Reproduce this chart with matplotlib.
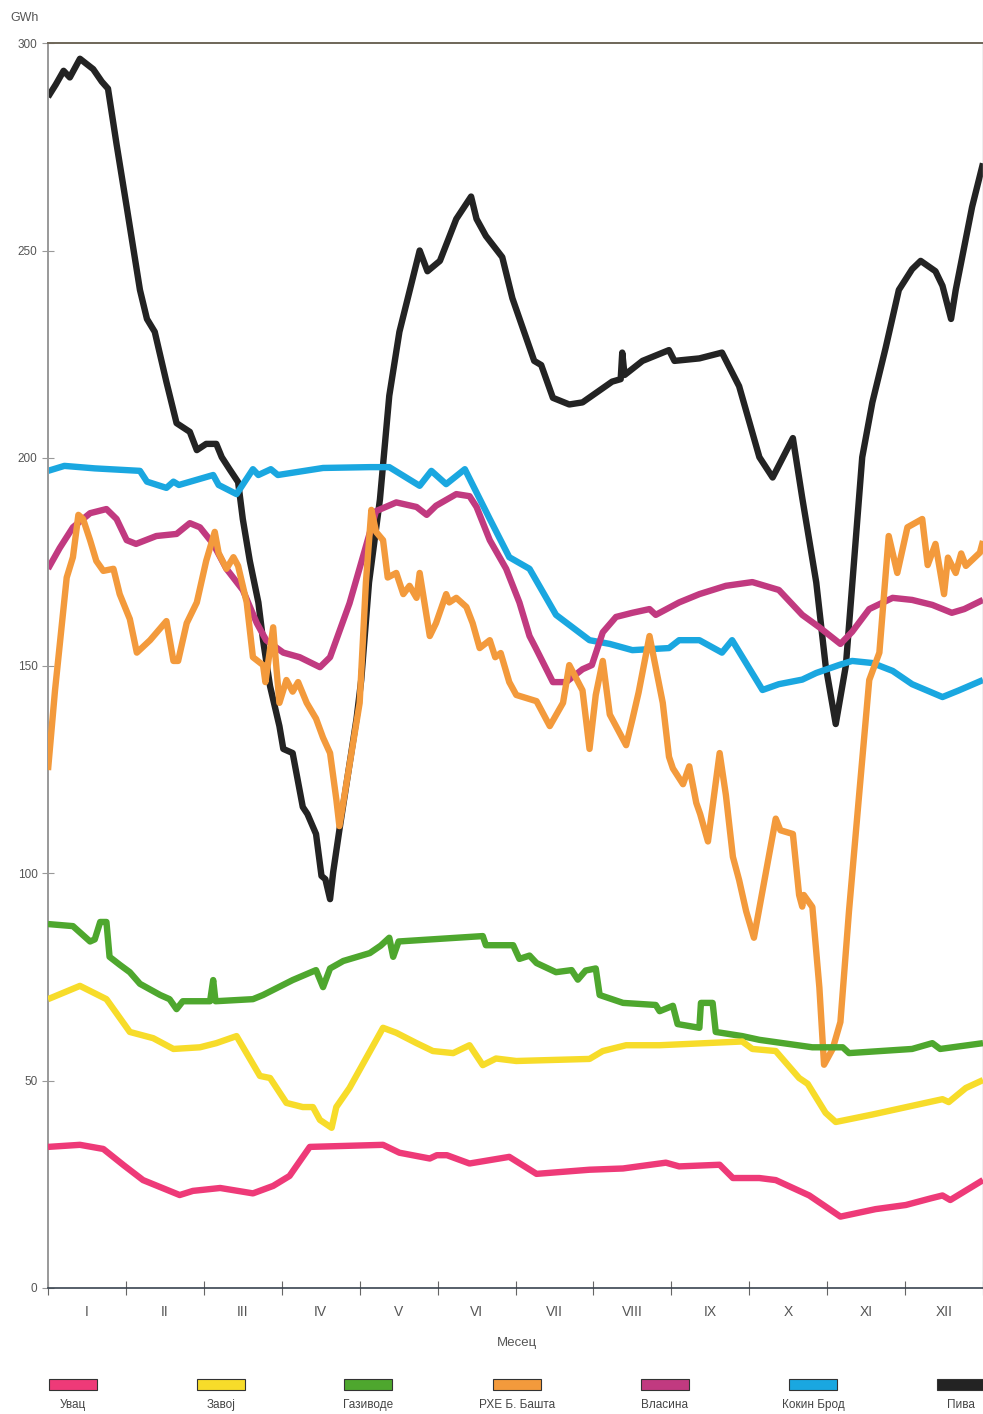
import matplotlib
matplotlib.use("Agg")
import matplotlib.pyplot as plt
from matplotlib.patches import Rectangle
import matplotlib.font_manager as fm

names = {f.name for f in fm.fontManager.ttflist}
FONT = ['Liberation Sans Narrow', 'Liberation Sans', 'DejaVu Sans'] if 'Liberation Sans Narrow' in names else ['Liberation Sans', 'DejaVu Sans']
plt.rcParams['font.family'] = FONT

# ---------------- data (x in months from start of year, values in GWh) -------------
month_labels = ['I', 'II', 'III', 'IV', 'V', 'VI', 'VII', 'VIII', 'IX', 'X', 'XI', 'XII']
y_ticks = [0, 50, 100, 150, 200, 250, 300]

series_names = ['Увац', 'Завој', 'Газиводе', 'РХЕ Б. Башта', 'Власина', 'Кокин Брод', 'Пива']
series_colors = ['#ee3a78', '#f7dc2a', '#4ea72e', '#f39a3c', '#c13a80', '#1aa7e0', '#232323']

uvac_x = [0, 0.41, 0.71, 0.97, 1.22, 1.69, 1.86, 2.21, 2.63, 2.89, 3.10, 3.36, 4.30, 4.51, 4.90, 4.99,
          5.12, 5.41, 5.92, 6.27, 6.95, 7.38, 7.93, 8.10, 8.62, 8.79, 9.13, 9.34, 9.77, 10.17, 10.62,
          11.01, 11.33, 11.48, 11.58, 12.0]
uvac_y = [34, 34.5, 33.5, 29.6, 26, 22.4, 23.4, 24.1, 22.8, 24.6, 27, 34, 34.5, 32.6, 31.2, 32,
          32, 30, 31.6, 27.5, 28.5, 28.8, 30.2, 29.3, 29.7, 26.5, 26.5, 26, 22.3, 17.2, 19,
          20, 21.6, 22.3, 21.2, 26]

zavoj_x = [0, 0.41, 0.75, 1.05, 1.35, 1.61, 1.95, 2.16, 2.42, 2.72, 2.85, 3.06, 3.27, 3.40, 3.49, 3.64,
           3.70, 3.87, 4.30, 4.47, 4.73, 4.94, 5.20, 5.41, 5.58, 5.75, 6.01, 6.95, 7.12, 7.42, 7.85,
           8.91, 9.04, 9.34, 9.64, 9.75, 9.98, 10.11, 10.58, 11.48, 11.56, 11.78, 12.0]
zavoj_y = [69.6, 72.8, 69.6, 61.7, 60.2, 57.6, 58, 59, 60.7, 51.1, 50.6, 44.6, 43.6, 43.6, 40.5, 38.6,
           43.6, 48.2, 62.7, 61.5, 59, 57.1, 56.6, 58.5, 53.7, 55.3, 54.7, 55.2, 57.1, 58.5, 58.5,
           59.4, 57.6, 57.1, 50.6, 49.2, 42.2, 40, 41.8, 45.5, 44.8, 48.2, 50.1]

gazivode_x = [0, 0.32, 0.54, 0.60, 0.67, 0.75, 0.79, 0.92, 1.05, 1.18, 1.44, 1.56, 1.65, 1.73, 2.08,
              2.12, 2.15, 2.63, 2.76, 3.14, 3.44, 3.53, 3.62, 3.79, 4.13, 4.27, 4.38, 4.43, 4.50,
              5.58, 5.62, 5.97, 6.05, 6.18, 6.27, 6.52, 6.72, 6.80, 6.90, 7.03, 7.08, 7.38, 7.80,
              7.85, 8.02, 8.08, 8.36, 8.38, 8.53, 8.57, 8.91, 9.13, 9.81, 10.20, 10.28, 11.09,
              11.35, 11.45, 12.0]
gazivode_y = [87.7, 87.2, 83.5, 84, 88.2, 88.2, 79.8, 77.9, 76.1, 73.3, 70.6, 69.6, 67.2, 69.1, 69.1,
              74.2, 69.1, 69.6, 70.6, 74.2, 76.6, 72.5, 77, 78.8, 80.7, 82.5, 84.4, 79.8, 83.5,
              84.8, 82.6, 82.6, 79.3, 80.1, 78.3, 76.1, 76.6, 74.3, 76.5, 77, 70.6, 68.7, 68.2,
              66.7, 68, 63.6, 62.7, 68.7, 68.7, 61.7, 60.7, 59.8, 58, 58, 56.6, 57.6,
              59, 57.6, 59]

basta_x = [0, 0.09, 0.24, 0.32, 0.39, 0.45, 0.54, 0.62, 0.71, 0.84, 0.92, 1.05, 1.14, 1.31, 1.52, 1.61,
           1.67, 1.78, 1.91, 2.03, 2.14, 2.19, 2.29, 2.38, 2.44, 2.55, 2.63, 2.76, 2.79, 2.89, 2.92,
           2.97, 3.06, 3.14, 3.21, 3.32, 3.44, 3.53, 3.62, 3.70, 3.74, 3.87, 4.00, 4.08, 4.15, 4.21,
           4.30, 4.36, 4.47, 4.56, 4.64, 4.73, 4.77, 4.90, 4.98, 5.11, 5.15, 5.24, 5.37, 5.45, 5.54,
           5.67, 5.74, 5.81, 5.92, 6.01, 6.27, 6.44, 6.61, 6.69, 6.86, 6.95, 7.03, 7.12, 7.21, 7.42,
           7.50, 7.58, 7.72, 7.89, 7.97, 8.02, 8.15, 8.23, 8.32, 8.37, 8.47, 8.62, 8.70, 8.79, 8.87,
           8.96, 9.06, 9.34, 9.40, 9.56, 9.64, 9.68, 9.70, 9.81, 9.90, 9.96, 10.07, 10.17, 10.28,
           10.41, 10.54, 10.67, 10.79, 10.90, 11.03, 11.22, 11.29, 11.39, 11.50, 11.55, 11.65,
           11.72, 11.78, 11.96, 12.0]
basta_y = [124.8, 144, 171.2, 176.1, 186.3, 185.3, 180.2, 175.2, 172.8, 173.3, 167.2, 161.2, 153.1, 156.1,
           160.7, 151.1, 151.1, 160.2, 165.2, 175.2, 182.2, 177.1, 173.3, 176.1, 174, 165.2, 152, 150.1,
           146, 159.2, 152, 141, 146.5, 143.7, 146, 141, 137.2, 132.6, 128.9, 117.8, 111.3, 126.1, 141,
           170, 187.5, 182.2, 180.2, 171.2, 172.3, 167.2, 169.2, 166.3, 172.3, 157.1, 160.2, 167.2,
           165.2, 166.3, 164.1, 160.2, 154.2, 156.1, 152, 153, 146, 142.9, 141.4, 135.4, 141, 150.1,
           144, 129.9, 142.9, 151.1, 138.2, 130.8, 137, 143.5, 157.1, 141, 128, 125.2, 121.4, 125.7,
           116.9, 114.2, 107.6, 128.9, 118.8, 103.9, 98.3, 90.8, 84.4, 113.1, 110.3, 109.4, 94.7,
           91.9, 94.7, 91.8, 72.4, 53.8, 57.6, 64.1, 90.8, 118.8, 146.5, 153.1, 181.2, 172.3, 183.3,
           185.3, 174.2, 179.3, 167.2, 176, 172.3, 177, 174, 177.2, 180]

vlasina_x = [0, 0.15, 0.32, 0.54, 0.75, 0.88, 1.01, 1.13, 1.39, 1.65, 1.82, 1.95, 2.12, 2.29, 2.50,
             2.68, 2.80, 3.02, 3.23, 3.49, 3.62, 3.87, 4.21, 4.47, 4.73, 4.86, 4.98, 5.24, 5.41,
             5.50, 5.67, 5.88, 6.05, 6.18, 6.26, 6.48, 6.65, 6.86, 6.98, 7.12, 7.29, 7.50, 7.72,
             7.80, 8.10, 8.36, 8.70, 9.04, 9.38, 9.68, 9.90, 10.17, 10.32, 10.54, 10.84, 11.09,
             11.35, 11.60, 11.76, 12.0]
vlasina_y = [173.3, 178.3, 183.3, 186.7, 187.7, 185.3, 180.2, 179.3, 181.2, 181.7, 184.3, 183.3, 179.3,
             173.3, 168.2, 160.2, 156.1, 153.1, 152, 149.6, 152, 165, 187.2, 189.3, 188.2, 186.3,
             188.5, 191.3, 190.8, 188.2, 180.2, 173.3, 165.2, 157.1, 154.2, 146, 146, 149.1, 150.1,
             158, 161.7, 162.7, 163.6, 162.2, 165.2, 167.2, 169.2, 170.1, 168.2, 162.2, 159.2,
             155.2, 158.1, 163.6, 166.3, 165.8, 164.6, 162.7, 163.6, 165.8]

kokin_x = [0, 0.21, 0.60, 1.18, 1.27, 1.52, 1.61, 1.68, 2.12, 2.19, 2.42, 2.63, 2.70, 2.86, 2.95, 3.53,
           4.13, 4.38, 4.77, 4.92, 5.11, 5.35, 5.67, 5.92, 6.18, 6.52, 6.95, 7.21, 7.50, 7.97, 8.10,
           8.36, 8.65, 8.78, 9.17, 9.38, 9.68, 9.86, 10.15, 10.32, 10.58, 10.84, 11.09, 11.48,
           11.69, 12.0]
kokin_y = [196.9, 198.1, 197.5, 196.9, 194.3, 192.8, 194.3, 193.5, 195.9, 193.5, 191.3, 197.3, 195.9,
           197.3, 195.9, 197.6, 197.8, 197.8, 193.3, 196.9, 193.7, 197.3, 185.3, 176.1, 173.3, 162.2,
           156.1, 155.2, 153.7, 154.2, 156.1, 156.1, 153.1, 156.1, 144.1, 145.5, 146.6, 148.2, 150.1,
           151.1, 150.6, 148.7, 145.5, 142.4, 144, 146.5]

piva_x = [0, 0.10, 0.20, 0.28, 0.41, 0.58, 0.69, 0.77, 0.88, 1.01, 1.18, 1.27, 1.37, 1.52, 1.65, 1.82,
          1.91, 2.03, 2.16, 2.23, 2.33, 2.44, 2.50, 2.59, 2.70, 2.76, 2.85, 2.97, 3.02, 3.14, 3.27,
          3.33, 3.44, 3.51, 3.56, 3.62, 3.66, 3.74, 3.96, 4.02, 4.12, 4.26, 4.38, 4.51, 4.77, 4.87,
          5.03, 5.24, 5.43, 5.50, 5.62, 5.83, 5.96, 6.24, 6.33, 6.48, 6.69, 6.86, 7.24, 7.35, 7.37,
          7.40, 7.63, 7.97, 8.04, 8.36, 8.65, 8.87, 9.13, 9.30, 9.56, 9.68, 9.86, 9.98, 10.11,
          10.24, 10.45, 10.58, 10.75, 10.92, 11.09, 11.20, 11.39, 11.48, 11.59, 11.65, 11.86,
          12.0]
piva_y = [287, 290, 293.3, 291.7, 296.2, 293.7, 290.7, 289, 275.6, 260.5, 240.5, 233.5, 230.4, 218.3,
          208.4, 206.3, 201.9, 203.4, 203.4, 200.2, 197.3, 194.2, 185.3, 175.2, 165.2, 156.1, 145,
          135.4, 129.9, 128.9, 115.9, 114.2, 109.4, 99.3, 98.5, 93.7, 100.2, 110.4, 137.2, 146.5,
          170, 190, 215, 230.4, 250, 245, 247.5, 257.6, 263, 257.6, 253.5, 248.4, 238.5, 223.4,
          222.4, 214.5, 212.9, 213.4, 218.4, 219, 225.4, 220, 223.4, 226, 223.4, 224, 225.4,
          217.3, 200.2, 195.3, 204.8, 190.4, 170, 150, 135.9, 150, 200.2, 213.4, 226.5, 240.5,
          245.5, 247.5, 245, 241.5, 233.5, 240.5, 260.5, 271]

xs = [uvac_x, zavoj_x, gazivode_x, basta_x, vlasina_x, kokin_x, piva_x]
ys = [uvac_y, zavoj_y, gazivode_y, basta_y, vlasina_y, kokin_y, piva_y]

# ---------------- figure ----------------
W, H = 983, 1414
fig = plt.figure(figsize=(W / 100, H / 100), dpi=100)
ax = fig.add_axes([48 / W, 1 - 1288 / H, (983 - 48) / W, (1288 - 43) / H])

zorders = [6, 5, 4, 3, 2.5, 2.2, 2]
for x, y, c, z in zip(xs, ys, series_colors, zorders):
    ax.plot(x, y, color=c, lw=4.6, solid_joinstyle='round', solid_capstyle='butt', zorder=z)

ax.set_xlim(0, 12)
ax.set_ylim(0, 300)

ax.set_yticks(y_ticks)
ax.set_yticklabels([str(v) for v in y_ticks])
ax.tick_params(axis='y', direction='inout', length=9, width=0.8, color='#999999',
               labelsize=8.5, labelcolor='#555555', pad=3)

ax.set_xticks(range(13))
ax.set_xticklabels([])
ax.set_xticks([i + 0.5 for i in range(12)], minor=True)
ax.set_xticklabels(month_labels, minor=True)
ax.tick_params(axis='x', which='major', direction='inout', length=10, width=0.8, color='#666666')
ax.tick_params(axis='x', which='minor', length=0, labelsize=10, labelcolor='#555555', pad=12)

ax.spines['left'].set_color('#999999')
ax.spines['left'].set_linewidth(1.4)
ax.spines['bottom'].set_color('#3a4450')
ax.spines['bottom'].set_linewidth(1.2)
ax.spines['top'].set_color('#6e6658')
ax.spines['top'].set_linewidth(1.4)
ax.spines['right'].set_color('#aaaaaa')
ax.spines['right'].set_linewidth(1.0)

fig.text(10 / W, 1 - 18 / H, 'GWh', fontsize=9, color='#555555', ha='left', va='center')
fig.text(517 / W, 1 - 1343 / H, 'Месец', fontsize=9.5, color='#555555', ha='center', va='center')

# legend: coloured boxes with captions below
centers = [73, 221, 368, 517, 665, 813, 961]
for name, color, cx in zip(series_names, series_colors, centers):
    fig.patches.append(Rectangle(((cx - 24) / W, 1 - 1390 / H), 48 / W, 11 / H,
                                 transform=fig.transFigure, facecolor=color,
                                 edgecolor='#333333', linewidth=0.8))
    fig.text(cx / W, 1 - 1405 / H, name, fontsize=8.5, color='#444444', ha='center', va='center')

fig.savefig('out.png', dpi=100)
